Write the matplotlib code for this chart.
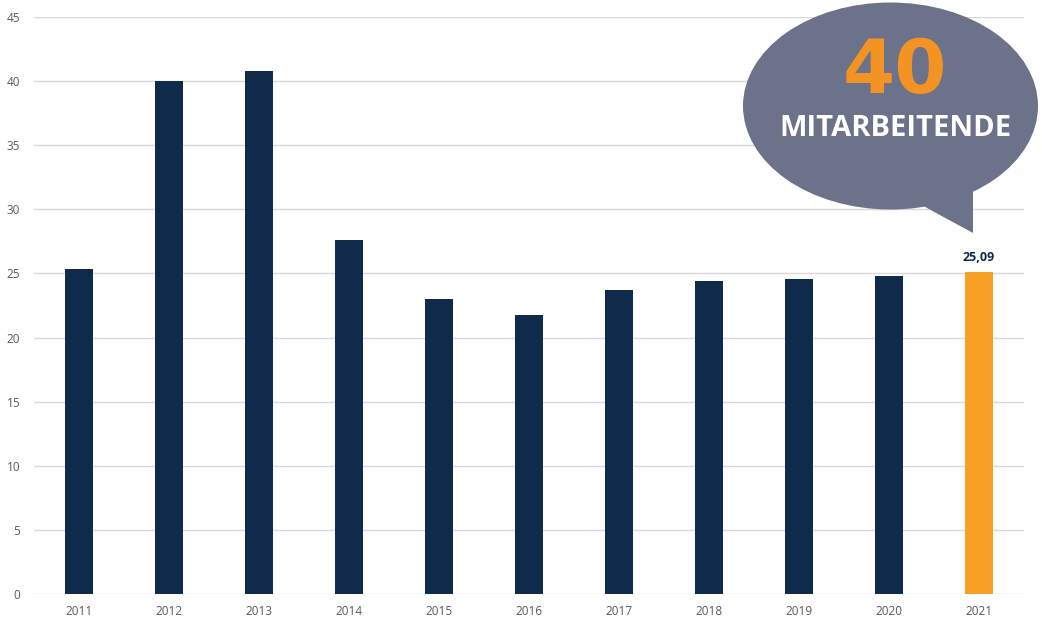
import matplotlib
matplotlib.use("Agg")
import matplotlib.pyplot as plt
from matplotlib.patches import Ellipse, Polygon

years = ["2011", "2012", "2013", "2014", "2015", "2016", "2017", "2018", "2019", "2020", "2021"]
values = [25.35, 40.0, 40.8, 27.6, 23.0, 21.78, 23.7, 24.4, 24.55, 24.8, 25.09]
label_2021 = "25,09"
bubble_number = "40"
bubble_text = "MITARBEITENDE"

navy = "#102a4c"
orange = "#f7a024"
W, H = 1042, 621

fig = plt.figure(figsize=(W / 100, H / 100), dpi=100)
ax = fig.add_axes([34 / W, 1 - 594 / H, (1024 - 34) / W, (594 - 17) / H])

colors = [navy] * (len(years) - 1) + [orange]
x = list(range(len(years)))
ax.bar(x, values, width=0.31, color=colors, zorder=3)
ax.set_xlim(-0.5, len(years) - 0.5)
ax.set_ylim(0, 45)
ax.set_yticks(range(0, 46, 5))
ax.set_xticks(x)
ax.set_xticklabels(years)
ax.grid(axis="y", color="#d9d9d9", linewidth=1, zorder=0)
for s in ax.spines.values():
    s.set_visible(False)
ax.tick_params(length=0, labelsize=8.5, colors="#595959", pad=8)
ax.tick_params(axis="y", pad=10)
for lab in ax.get_xticklabels() + ax.get_yticklabels():
    lab.set_fontfamily("Open Sans")

ax.annotate(label_2021, (x[-1], values[-1]), xytext=(0, 6), textcoords="offset points",
            ha="center", va="bottom", fontsize=9, fontweight="bold", color=navy,
            family="Open Sans")

def fx(px):
    return px / W

def fy(py):
    return 1 - py / H

bubble_color = "#6b7289"
ell = Ellipse((fx(890.5), fy(106)), 295 / W, 207 / H, transform=fig.transFigure,
              facecolor=bubble_color, edgecolor="none", zorder=10)
fig.patches.append(ell)
tail = Polygon([(fx(915), fy(200)), (fx(927), fy(208)), (fx(973), fy(233)), (fx(973), fy(185))],
               closed=True, transform=fig.transFigure, facecolor=bubble_color,
               edgecolor="none", zorder=10)
fig.patches.append(tail)

fig.text(fx(895), fy(72), bubble_number, ha="center", va="center", fontsize=54,
         fontweight="bold", color="#f39323", family="DejaVu Sans", zorder=11)
fig.text(fx(895), fy(128), bubble_text, ha="center", va="center", fontsize=21,
         fontweight="bold", color="white", family="Open Sans", zorder=11)

fig.savefig("out.png", dpi=100)
